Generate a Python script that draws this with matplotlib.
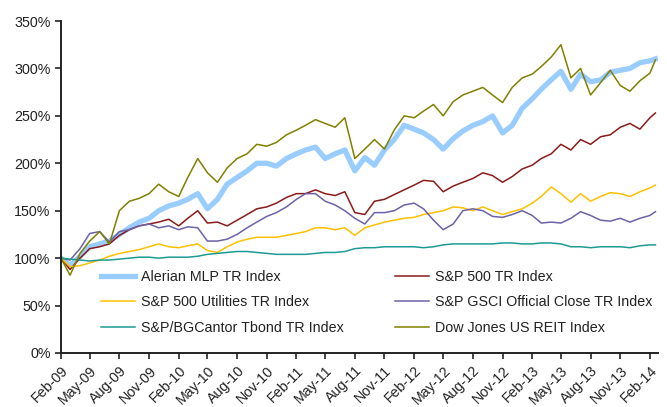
import numpy as np
import pandas as pd
import matplotlib
matplotlib.use('Agg')
import matplotlib.pyplot as plt
import matplotlib.dates as mdates
from matplotlib.ticker import FuncFormatter

plt.rcParams['font.family'] = ['Liberation Sans', 'DejaVu Sans']

# monthly observations Feb-09 .. Feb-14, plus the last print in late Feb-14
dates = list(pd.date_range('2009-02-01', '2014-02-01', freq='MS')) + [pd.Timestamp('2014-02-18')]

mlp = [100, 92, 102, 112, 115, 118, 125, 132, 138, 142, 150, 155, 158, 162, 168, 152,
       162, 178, 185, 192, 200, 200, 197, 205, 210, 214, 217, 205, 210, 214, 192, 206,
       198, 214, 225, 240, 236, 232, 225, 215, 226, 234, 240, 244, 250, 232, 240, 258,
       268, 278, 288, 297, 278, 294, 286, 288, 296, 298, 300, 306, 308, 310]
sp500 = [100, 88, 100, 110, 112, 115, 124, 130, 134, 136, 138, 141, 134, 142, 150, 137,
         138, 134, 140, 146, 152, 154, 158, 164, 168, 168, 172, 168, 166, 170, 148, 146,
         160, 162, 167, 172, 177, 182, 181, 170, 176, 180, 184, 190, 187, 180, 186, 194,
         198, 205, 210, 220, 214, 225, 220, 228, 230, 238, 242, 236, 248, 253]
utilities = [100, 91, 92, 95, 98, 102, 105, 107, 109, 112, 115, 112, 111, 113, 115, 108,
             106, 112, 117, 120, 122, 122, 122, 124, 126, 128, 132, 132, 130, 132, 124, 132,
             135, 138, 140, 142, 143, 146, 148, 150, 154, 153, 150, 154, 150, 146, 149, 152,
             158, 165, 175, 168, 159, 168, 160, 165, 169, 168, 165, 170, 174, 177]
gsci = [100, 98, 110, 126, 128, 117, 128, 130, 134, 136, 132, 134, 130, 133, 132, 118,
        118, 120, 125, 132, 138, 144, 148, 154, 162, 168, 168, 160, 156, 150, 142, 136,
        148, 148, 150, 156, 158, 152, 140, 130, 136, 150, 152, 150, 144, 143, 146, 150,
        145, 137, 138, 137, 142, 149, 145, 140, 139, 142, 138, 142, 145, 149]
tbond = [100, 99, 98, 97, 98, 98, 99, 100, 101, 101, 100, 101, 101, 101, 102, 104,
         105, 106, 107, 107, 106, 105, 104, 104, 104, 104, 105, 106, 106, 107, 110, 111,
         111, 112, 112, 112, 112, 111, 112, 114, 115, 115, 115, 115, 115, 116, 116, 115,
         115, 116, 116, 115, 112, 112, 111, 112, 112, 112, 111, 113, 114, 114]
reit = [100, 82, 105, 118, 128, 115, 150, 160, 163, 168, 178, 170, 165, 185, 205, 190,
        180, 195, 205, 210, 220, 218, 222, 230, 235, 240, 246, 242, 238, 248, 205, 215,
        225, 215, 235, 250, 248, 255, 262, 250, 265, 272, 276, 280, 272, 264, 280, 290,
        294, 302, 312, 325, 290, 300, 272, 285, 298, 282, 276, 287, 295, 309]

labels = ['Alerian MLP TR Index', 'S&P 500 TR Index', 'S&P 500 Utilities TR Index',
          'S&P GSCI Official Close TR Index', 'S&P/BGCantor Tbond TR Index',
          'Dow Jones US REIT Index']
colors = ['#99CCFF', '#8B1A1A', '#FFC000', '#6B62A8', '#1E9A94', '#808000']
widths = [3.8, 1.1, 1.1, 1.1, 1.1, 1.1]
series = [mlp, sp500, utilities, gsci, tbond, reit]

FS = 10.3

fig = plt.figure(figsize=(6.67, 4.07), dpi=100)
ax = fig.add_axes([61 / 667, 54 / 407, 597 / 667, 332 / 407])

lines = {}
for lab, col, lw, vals in zip(labels, colors, widths, series):
    lines[lab], = ax.plot(dates, np.array(vals) / 100, color=col, lw=lw, label=lab)

ax.set_ylim(0, 3.5)
ax.set_yticks(np.arange(0, 3.51, 0.5))
ax.yaxis.set_major_formatter(FuncFormatter(lambda v, p: f'{v * 100:.0f}%'))
ax.set_xlim(pd.Timestamp('2009-02-01'), pd.Timestamp('2014-02-26'))
ax.set_xticks(pd.date_range('2009-02-01', '2014-02-01', freq='3MS'))
ax.xaxis.set_major_formatter(mdates.DateFormatter('%b-%y'))
plt.setp(ax.get_xticklabels(), rotation=45, ha='right', rotation_mode='anchor')

for s in ['top', 'right']:
    ax.spines[s].set_visible(False)
for s in ['left', 'bottom']:
    ax.spines[s].set_linewidth(1.4)
    ax.spines[s].set_color('#222222')
ax.tick_params(direction='out', length=4, width=1.2, colors='#222222', labelsize=FS)

order = ['Alerian MLP TR Index', 'S&P 500 Utilities TR Index', 'S&P/BGCantor Tbond TR Index',
         'S&P 500 TR Index', 'S&P GSCI Official Close TR Index', 'Dow Jones US REIT Index']
leg = ax.legend([lines[k] for k in order], order, ncol=2, frameon=False, fontsize=FS,
                loc='upper left', bbox_to_anchor=(0.045, 0.29), handlelength=2.4,
                handletextpad=0.4, columnspacing=3.6, labelspacing=0.82)
for t in leg.get_texts():
    t.set_color('#222222')

fig.savefig('out.png', dpi=100)
